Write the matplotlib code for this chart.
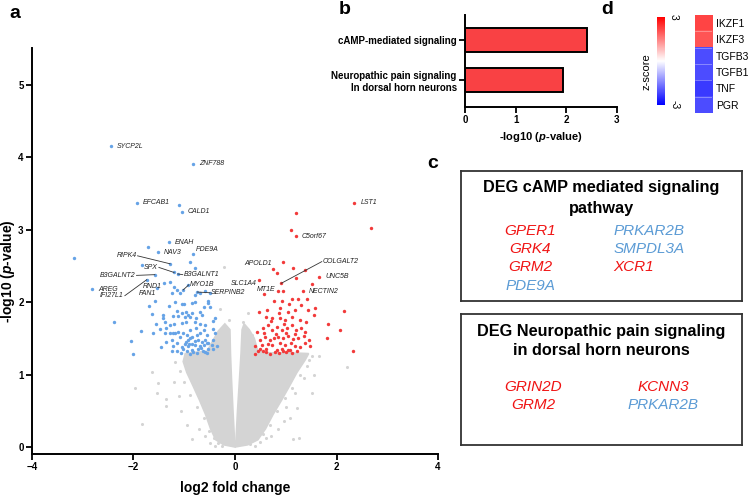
import matplotlib
matplotlib.use('Agg')
import matplotlib.pyplot as plt
import numpy as np
from matplotlib.colors import Normalize

plt.rcParams['font.family'] = ['Liberation Sans', 'DejaVu Sans']
plt.rcParams['mathtext.fontset'] = 'custom'
plt.rcParams['mathtext.rm'] = 'Liberation Sans'
plt.rcParams['mathtext.it'] = 'Liberation Sans:italic'
plt.rcParams['mathtext.bf'] = 'Liberation Sans:bold'
plt.rcParams['mathtext.bfit'] = 'Liberation Sans:bold:italic'

# ---------------- Panel a: volcano data ----------------
down_x = [-2.44, -0.83, -1.93, -1.10, -1.05, -1.30, -1.71, -1.52, -0.83, -1.28, -0.89, -1.83,
          -0.79, -1.20, -1.13, -1.58, -1.74, -1.39, -2.82, -1.53, -1.02, -0.74, -3.17, -2.38,
          -1.28, -1.25, -1.15, -1.08, -0.92, -0.79, -0.69, -0.53, -0.49, -1.20, -0.59, -1.01,
          -1.58, -1.05, -0.85, -0.79, -0.53, -0.49, -1.63, -1.42, -1.15, -1.05, -0.97, -0.92,
          -0.85, -0.69, -0.66, -1.41, -1.22, -1.12, -0.99, -0.89, -0.77, -0.39, -0.43, -1.38,
          -1.28, -1.20, -1.05, -0.97, -0.79, -0.69, -0.59, -1.48, -1.35, -1.22, -1.12, -1.02,
          -0.89, -0.76, -0.62, -0.43, -1.62, -1.38, -1.28, -1.18, -1.08, -0.95, -0.85, -0.69,
          -0.56, -0.39, -2.04, -1.25, -1.15, -0.92, -0.89, -0.79, -0.72, -0.66, -0.59, -0.53,
          -0.43, -2.00, -1.22, -0.99, -0.92, -0.85, -0.79, -0.69, -0.62, -0.56, -0.46, -1.02,
          -0.95, -0.85, -0.72, -0.64, -0.53, -0.43, -0.36, -1.25, -0.89, -0.60, -0.75, -0.82,
          -1.07, -1.15, -0.67, -0.97, -1.05, -0.75, -0.90, -0.55, -1.35, -1.45, -1.55, -1.70,
          -1.85, -1.30, -1.18, -0.62]
down_y = [4.15, 3.91, 3.37, 3.34, 3.25, 2.83, 2.76, 2.69, 2.67, 2.53, 2.55, 2.51,
          2.47, 2.41, 2.39, 2.38, 2.31, 2.27, 2.18, 2.19, 2.17, 2.14, 2.61, 1.72,
          2.28, 2.12, 2.17, 2.12, 2.24, 2.10, 2.12, 2.01, 2.12, 2.21, 2.15, 1.98,
          2.01, 1.98, 1.99, 2.00, 1.99, 1.93, 1.84, 1.82, 1.88, 1.85, 1.87, 1.82,
          1.85, 1.87, 1.82, 1.78, 1.81, 1.81, 1.80, 1.79, 1.78, 1.78, 1.74, 1.72,
          1.69, 1.70, 1.71, 1.73, 1.72, 1.70, 1.69, 1.63, 1.64, 1.58, 1.59, 1.57,
          1.61, 1.64, 1.62, 1.63, 1.57, 1.57, 1.57, 1.57, 1.52, 1.55, 1.52, 1.57,
          1.55, 1.58, 1.47, 1.48, 1.44, 1.48, 1.50, 1.47, 1.48, 1.45, 1.48, 1.43,
          1.48, 1.29, 1.40, 1.42, 1.39, 1.42, 1.41, 1.39, 1.41, 1.44, 1.41, 1.35,
          1.32, 1.34, 1.35, 1.33, 1.36, 1.35, 1.39, 1.32, 1.29, 1.31, 1.30, 1.31,
          1.30, 1.33, 1.37, 1.45, 1.38, 1.55, 1.42, 1.30, 1.45, 1.38, 1.70, 1.95,
          1.60, 1.95, 2.00, 1.93]

up_x = [2.35, 2.67, 1.20, 1.10, 1.20, 0.94, 0.74, 1.15, 1.37, 0.91, 1.66, 1.51,
        1.33, 0.47, 0.58, 2.15, 1.83, 2.06, 1.81, 2.33, 0.82, 1.20, 0.84, 0.95,
        1.12, 1.25, 1.42, 0.92, 0.76, 0.64, 0.48, 0.89, 1.05, 1.18, 1.31, 1.44,
        1.58, 1.56, 0.62, 0.72, 0.89, 0.99, 1.12, 1.28, 1.40, 0.43, 0.56, 0.66,
        0.72, 0.82, 0.92, 1.02, 1.12, 1.21, 1.31, 1.38, 1.46, 0.49, 0.59, 0.68,
        0.76, 0.85, 0.95, 1.05, 1.15, 1.25, 1.35, 0.39, 0.53, 0.62, 0.72, 0.82,
        0.92, 0.99, 1.08, 1.18, 1.28, 1.38, 0.39, 0.56, 0.69, 0.95, 1.05, 1.48,
        0.45, 0.62, 0.78, 0.87, 1.00, 1.13, 1.22, 0.50, 0.66, 0.88, 1.10, 0.58,
        0.80, 1.00, 1.18, 0.70, 0.97, 1.06, 0.86]
up_y = [3.37, 3.02, 3.23, 2.99, 2.91, 2.56, 2.46, 2.47, 2.44, 2.26, 2.35, 2.25,
        2.15, 2.30, 2.11, 1.88, 1.70, 1.62, 1.50, 1.33, 2.40, 2.33, 2.15, 2.15,
        2.04, 2.04, 2.04, 2.01, 2.01, 1.89, 1.87, 1.92, 1.87, 1.89, 1.96, 1.89,
        1.92, 1.82, 1.80, 1.78, 1.78, 1.75, 1.80, 1.75, 1.73, 1.59, 1.64, 1.69,
        1.62, 1.66, 1.62, 1.64, 1.69, 1.62, 1.64, 1.59, 1.48, 1.48, 1.52, 1.48,
        1.50, 1.52, 1.50, 1.53, 1.49, 1.51, 1.53, 1.39, 1.41, 1.36, 1.41, 1.34,
        1.36, 1.41, 1.34, 1.39, 1.38, 1.43, 1.29, 1.32, 1.29, 1.32, 1.34, 1.39,
        1.33, 1.31, 1.31, 1.30, 1.31, 1.30, 1.32, 1.36, 1.42, 1.44, 1.44, 1.57,
        1.56, 1.58, 1.56, 1.74, 1.70, 1.97, 1.85]

# non-significant genes: dense cloud outline + sparse outliers
cloud_left_x = [0.0, -0.22, -0.38, -0.48, -0.58, -0.70, -0.83, -0.95, -1.02, -0.98, -0.75,
                -0.55, -0.45, -0.33, -0.20, -0.10, -0.09, -0.07, -0.04, -0.01]
cloud_left_y = [0.0, 0.03, 0.10, 0.25, 0.45, 0.65, 0.85, 1.03, 1.18, 1.29, 1.31,
                1.32, 1.45, 1.60, 1.70, 1.62, 1.30, 0.95, 0.50, 0.10]
cloud_right_x = [0.0, 0.25, 0.45, 0.60, 0.75, 0.92, 1.08, 1.22, 1.38, 1.45, 1.10,
                 0.70, 0.45, 0.38, 0.28, 0.18, 0.14, 0.12, 0.09, 0.05, 0.02]
cloud_right_y = [0.0, 0.03, 0.10, 0.25, 0.45, 0.65, 0.85, 1.03, 1.20, 1.29, 1.30,
                 1.30, 1.32, 1.50, 1.62, 1.70, 1.62, 1.30, 0.95, 0.50, 0.10]
ns_x = [-1.84, -0.85, -1.54, -1.35, -1.06, 1.15, 1.27, 1.22, 0.96, 0.49, -1.64, -1.51,
        -1.35, -1.97, -1.18, 2.20, 1.51, 1.08, 1.66, 1.45, 0.20, 0.33, -0.22, -0.60,
        -0.70, 0.70, 0.85, -1.20, 1.35, -0.40, 0.40, -0.30, 0.25, -1.10, 1.55, -0.95,
        -0.62, -0.75, -0.88, -1.00, -1.08, -0.52, -0.42, -0.33, 0.55, 0.68, 0.82, 0.98,
        1.12, 1.28, 1.42, 1.52, 0.62, 0.30, -0.25, -0.50, 0.15, -0.12, 1.00, 1.18]
ns_y = [0.32, 0.11, 0.75, 0.66, 0.50, 0.11, 0.13, 0.54, 0.36, 0.07, 1.04, 0.88,
        0.56, 0.81, 1.18, 1.10, 0.74, 0.40, 1.25, 1.20, 1.42, 1.55, 2.49, 0.15,
        0.25, 0.15, 0.25, 0.90, 0.95, 0.02, 0.02, 1.90, 1.85, 0.70, 1.00, 0.30,
        0.40, 0.55, 0.72, 0.90, 1.05, 0.22, 0.12, 0.06, 0.18, 0.30, 0.50, 0.68,
        0.82, 1.00, 1.12, 1.25, 0.12, 0.04, 0.02, 0.05, 1.72, 1.75, 0.55, 0.75]

label_genes = ['SYCP2L', 'ZNF788', 'EFCAB1', 'CALD1', 'ENAH', 'NAV3', 'PDE9A', 'RIPK4',
               'SPX', 'B3GALNT1', 'B3GALNT2', 'AREG', 'IFI27L1', 'RND1', 'FAN1', 'MYO1B',
               'SERPINB2', 'LST1', 'C5orf67', 'APOLD1', 'COLGALT2', 'UNC5B', 'NECTIN2',
               'SLC1A4', 'MT1E']
label_x = [-2.44, -0.83, -1.93, -1.05, -1.30, -1.52, -0.83, -1.28, -1.20, -1.13, -1.58,
           -2.82, -1.74, -1.39, -1.53, -1.02, -0.74, 2.35, 1.20, 0.74, 0.91, 1.66, 1.33,
           0.47, 0.82]
label_y = [4.15, 3.91, 3.37, 3.25, 2.83, 2.69, 2.67, 2.53, 2.41, 2.39, 2.38, 2.18, 2.31,
           2.27, 2.19, 2.17, 2.14, 3.37, 2.91, 2.46, 2.26, 2.35, 2.15, 2.30, 2.26]

# ---------------- Panel b: pathway data ----------------
pathways = ['cAMP-mediated signaling', 'Neuropathic pain signaling\nIn dorsal horn neurons']
pathway_logp = [2.40, 1.93]

# ---------------- Panel c: gene lists ----------------
box1_title = ['DEG cAMP mediated signaling', 'pathway']
box1_left = ['GPER1', 'GRK4', 'GRM2', 'PDE9A']
box1_left_dir = ['up', 'up', 'up', 'down']
box1_right = ['PRKAR2B', 'SMPDL3A', 'XCR1']
box1_right_dir = ['down', 'down', 'up']
box2_title = ['DEG Neuropathic pain signaling', 'in dorsal horn neurons']
box2_left = ['GRIN2D', 'GRM2']
box2_left_dir = ['up', 'up']
box2_right = ['KCNN3', 'PRKAR2B']
box2_right_dir = ['up', 'down']

# ---------------- Panel d: heatmap ----------------
heat_genes = ['IKZF1', 'IKZF3', 'TGFB3', 'TGFB1', 'TNF', 'PGR']
heat_z = [2.2, 2.0, -2.1, -2.1, -2.3, -2.1]

# ---------------- styles ----------------
BLUE = '#66A3E6'
RED = '#F23A3A'
GRAY = '#D4D4D4'
TXT_RED = '#F01414'
TXT_BLUE = '#5B9BD5'
dir_color = {'up': TXT_RED, 'down': TXT_BLUE}

fig = plt.figure(figsize=(7.49, 4.95), dpi=100)

# ---- panel a ----
ax = fig.add_axes([0.0427, 0.0828, 0.5421, 0.8202])
ax.fill(cloud_left_x, cloud_left_y, color=GRAY, lw=1.2, ec=GRAY, zorder=1)
ax.fill(cloud_right_x, cloud_right_y, color=GRAY, lw=1.2, ec=GRAY, zorder=1)
ax.scatter(ns_x, ns_y, s=5, color=GRAY, lw=0, zorder=1)
ax.scatter(down_x, down_y, s=6, color=BLUE, lw=0, zorder=2)
ax.scatter(up_x, up_y, s=6, color=RED, lw=0, zorder=2)
ax.set_xlim(-4, 4)
ax.set_ylim(-0.097, 5.51)
ax.set_xticks([-4, -2, 0, 2, 4])
ax.set_yticks([0, 1, 2, 3, 4, 5])
for s in ['top', 'right']:
    ax.spines[s].set_visible(False)
for s in ['left', 'bottom']:
    ax.spines[s].set_linewidth(1.4)
ax.tick_params(width=1.3, length=4, labelsize=7, pad=2)
for t in ax.get_xticklabels() + ax.get_yticklabels():
    t.set_fontweight('bold')
ax.set_xlabel('log2 fold change', fontsize=10, fontweight='bold', labelpad=6)
ax.set_ylabel('-log10 ($\\mathbfit{p}$-value)', fontsize=10, fontweight='bold')
ax.yaxis.set_label_coords(-0.036, 0.45)

# label layout: (text dx, text dy, ha, leader line)
layout = {
    'SYCP2L': (0.12, 0.0, 'left', False), 'ZNF788': (0.12, 0.0, 'left', False),
    'EFCAB1': (0.12, 0.0, 'left', False), 'CALD1': (0.12, 0.0, 'left', False),
    'ENAH': (0.12, 0.0, 'left', False), 'NAV3': (0.12, 0.0, 'left', False),
    'PDE9A': (0.05, 0.06, 'left', False), 'RIPK4': (-0.66, 0.11, 'right', True),
    'SPX': (-0.32, 0.07, 'right', True), 'B3GALNT1': (0.12, -0.01, 'left', True),
    'B3GALNT2': (-0.38, -0.01, 'right', True), 'AREG': (0.12, 0.0, 'left', False),
    'IFI27L1': (-0.45, -0.22, 'right', True), 'RND1': (-0.06, -0.05, 'right', False),
    'FAN1': (-0.03, -0.07, 'right', False), 'MYO1B': (0.13, 0.07, 'left', True),
    'SERPINB2': (0.27, -0.01, 'left', True), 'LST1': (0.12, 0.0, 'left', False),
    'C5orf67': (0.12, 0.0, 'left', False), 'APOLD1': (-0.02, 0.07, 'right', False),
    'COLGALT2': (0.82, 0.30, 'left', True), 'UNC5B': (0.12, 0.0, 'left', False),
    'NECTIN2': (0.12, 0.0, 'left', False), 'SLC1A4': (-0.05, -0.04, 'right', False),
    'MT1E': (-0.02, -0.08, 'right', False),
}
for g, px, py in zip(label_genes, label_x, label_y):
    dx, dy, ha, line = layout[g]
    tx, ty = px + dx, py + dy
    ax.text(tx, ty, g, fontsize=5, style='italic', ha=ha, va='center', color='#222222', zorder=4)
    if line:
        ex = tx + (0.02 if ha == 'right' else -0.02)
        ax.plot([px, ex], [py, ty], color='#333333', lw=0.6, zorder=3)

# ---- panel b ----
axb = fig.add_axes([0.6208, 0.7838, 0.2029, 0.1859])
ypos = np.arange(len(pathways))
axb.barh(ypos, pathway_logp, height=0.62, color='#F94144', edgecolor='black', lw=1.4)
axb.set_ylim(1.675, -0.625)
axb.set_xlim(0, 3)
axb.set_xticks([0, 1, 2, 3])
axb.set_yticks(ypos)
axb.set_yticklabels(pathways, fontsize=9, fontweight='bold', ha='right')
for s in ['top', 'right']:
    axb.spines[s].set_visible(False)
for s in ['left', 'bottom']:
    axb.spines[s].set_linewidth(1.4)
axb.tick_params(width=1.3, length=4, labelsize=7, pad=2)
for t in axb.get_xticklabels():
    t.set_fontweight('bold')
axb.set_xlabel('-log10 ($\\mathbfit{p}$-value)', fontsize=8, fontweight='bold', labelpad=3)

# ---- panel c ----
def gene_box(rect, title, left, left_dir, right, right_dir, title_y, rows_y,
             left_x, right_x, right_ha):
    a = fig.add_axes(rect)
    a.set_xticks([]); a.set_yticks([])
    for s in a.spines.values():
        s.set_linewidth(1.3)
        s.set_color('#333333')
    for line, y in zip(title, title_y):
        a.text(0.5, y, line, transform=a.transAxes, ha='center', va='center',
               fontsize=11.7, fontweight='bold')
    for g, d, y in zip(left, left_dir, rows_y):
        a.text(left_x, y, g, transform=a.transAxes, ha='center', va='center',
               fontsize=11, style='italic', color=dir_color[d])
    for g, d, y in zip(right, right_dir, rows_y):
        a.text(right_x, y, g, transform=a.transAxes, ha=right_ha, va='center',
               fontsize=11, style='italic', color=dir_color[d])

gene_box([0.6155, 0.3919, 0.3752, 0.2626], box1_title, box1_left, box1_left_dir,
         box1_right, box1_right_dir, [0.877, 0.715], [0.538, 0.400, 0.262, 0.115],
         0.2456, 0.5421, 'left')
gene_box([0.6155, 0.1010, 0.3752, 0.2646], box2_title, box2_left, box2_left_dir,
         box2_right, box2_right_dir, [0.870, 0.725], [0.443, 0.305],
         0.256, 0.719, 'center')

# ---- panel d ----
norm = Normalize(vmin=-3, vmax=3)
axh = fig.add_axes([0.928, 0.772, 0.0227, 0.198])
axh.imshow(np.array(heat_z)[:, None], cmap='bwr', norm=norm, aspect='auto')
for i in range(len(heat_genes) - 1):
    axh.axhline(i + 0.5, color='white', lw=0.4, alpha=0.6)
axh.set_xticks([])
axh.set_yticks(range(len(heat_genes)))
axh.set_yticklabels(heat_genes, fontsize=7.5)
axh.yaxis.tick_right()
axh.tick_params(length=0, pad=3)
for s in axh.spines.values():
    s.set_visible(False)

axc = fig.add_axes([0.877, 0.788, 0.0107, 0.178])
sm = plt.cm.ScalarMappable(cmap='bwr', norm=norm)
cb = fig.colorbar(sm, cax=axc, ticks=[-3, 3])
cb.outline.set_visible(False)
cb.ax.set_yticklabels(['-3', '3'], rotation=-90, va='center', fontsize=7.5)
cb.ax.tick_params(length=0, pad=3)
fig.text(646 / 749, 1 - 72 / 495, 'z-score', rotation=90, fontsize=8,
         ha='center', va='center')

# panel letters
for letter, x, y in [('a', 15, 13), ('b', 345, 10), ('c', 433, 163), ('d', 607, 10)]:
    fig.text(x / 749, 1 - y / 495, letter, fontsize=14, fontweight='bold', ha='center', va='center')

fig.savefig('out.png', dpi=100)
